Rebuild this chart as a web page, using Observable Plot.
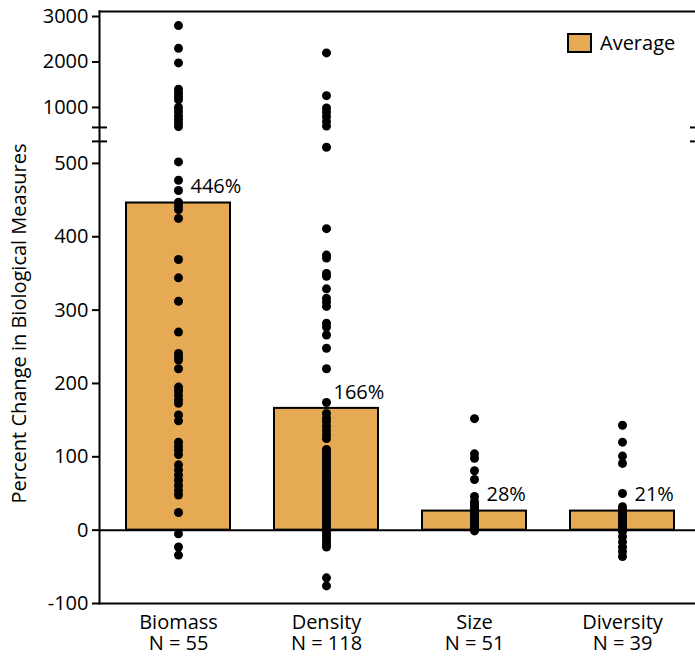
<!DOCTYPE html>
<html><head><meta charset="utf-8">
<script src="https://cdn.jsdelivr.net/npm/d3@7"></script>
<script src="https://cdn.jsdelivr.net/npm/@observablehq/plot@0.6"></script>
<style>
html,body{margin:0;padding:0;background:#fff;overflow:hidden}
#wrap{position:relative;width:695px;height:657px}
#legend{position:absolute;left:567px;top:33px;display:flex;align-items:center;font:20px "Open Sans",sans-serif;color:#000;line-height:20px}
#legend .sw{width:21px;height:16px;background:#E5AA53;border:2px solid #000;margin-right:8px}
</style></head><body><div id="wrap"><div id="legend"><div class="sw"></div><span>Average</span></div></div>
<script>
const categories = ["Biomass", "Density", "Size", "Diversity"];
const nLabels = ["N = 55", "N = 118", "N = 51", "N = 39"];
const averages = [446, 166, 26, 26];
const averageLabels = ["446%", "166%", "28%", "21%"];
const yTicks = [-100, 0, 100, 200, 300, 400, 500, 1000, 2000, 3000];
const breakLow = 530, breakHigh = 560, yMin = -100, yMax = 3110;

const biomass = [2800, 2300, 1980, 1400, 1320, 1240, 1170, 1000, 910, 820, 740, 660, 580,
  502, 477, 463, 447, 442, 437, 425, 369, 344, 312, 270, 241, 236, 232, 220,
  195, 190, 184, 178, 173, 157, 149, 120, 114, 109, 103, 89, 82, 75, 68, 61, 54, 48, 24, -5, -23, -34];
const density = [2200, 1260, 990, 900, 800, 690, 590, 522, 411, 375, 371, 350, 346, 329, 316, 311, 305,
  282, 277, 266, 248, 220, 174, 159, 153, 148, 142, 136, 130, 125,
  110, 106, 102, 99, 95, 91, 88, 84, 80, 77, 73, 70, 66, 62, 59, 55, 51, 48, 44, 40, 37, 33, 29, 26,
  22, 18, 15, 11, 7, 4, 0, -4, -8, -12, -16, -20, -23, -65, -76];
const size = [152, 104, 98, 81, 69, 46, 39, 36, 33, 30, 27, 24, 21, 18, 15, 12, 9, 6, 3, 1, -1];
const diversity = [143, 120, 101, 91, 50, 32, 28, 25, 22, 19, 16, 13, 10, 7, 4, 1, -2, -9, -16, -23, -29, -36];

// broken axis: the upper segment (>= breakHigh) is compressed, with a small gap after breakLow
const upperRatio = 0.062, gap = 19;
const brk = v => v <= breakLow ? v : breakLow + gap + (v - breakHigh) * upperRatio;

const seriesList = [biomass, density, size, diversity];
const points = [];
seriesList.forEach((vals, i) => vals.forEach(v => points.push({category: categories[i], value: v})));
const bars = categories.map((c, i) => ({category: c, avg: averages[i], label: averageLabels[i], n: nLabels[i]}));
const tickMap = new Map(yTicks.map(v => [brk(v), v]));

const chart = Plot.plot({
  width: 695, height: 657,
  marginTop: 11, marginBottom: 54, marginLeft: 99, marginRight: 0,
  style: {fontFamily: "'Open Sans', sans-serif", fontSize: "20px", color: "#000", background: "#fff"},
  x: {domain: categories, range: [99, 701], paddingInner: 0.295, paddingOuter: 0.168, label: null},
  y: {domain: [brk(yMin), brk(yMax)], label: null},
  marks: [
    Plot.barY(bars, {x: "category", y: d => brk(d.avg), fill: "#E5AA53", stroke: "#000", strokeWidth: 2}),
    Plot.ruleY([0], {stroke: "#000", strokeWidth: 2}),
    Plot.frame({anchor: "top", strokeWidth: 2}),
    Plot.frame({anchor: "left", strokeWidth: 2}),
    Plot.frame({anchor: "bottom", strokeWidth: 2}),
    Plot.axisY(yTicks.map(brk), {tickSize: 7, tickPadding: 4, fontSize: 20, strokeWidth: 2,
      tickFormat: d => String(tickMap.get(d))}),
    Plot.axisY([brk(breakLow), brk(breakHigh)], {tickSize: 15, dx: 8, strokeWidth: 2, tickFormat: () => ""}),
    Plot.axisY([brk(breakLow), brk(breakHigh)], {anchor: "right", tickSize: 10, dx: -6, strokeWidth: 2, tickFormat: () => ""}),
    Plot.axisX({tickSize: 0, tickPadding: 11, fontSize: 20, tickFormat: d => d}),
    Plot.text(bars, {x: "category", text: "n", frameAnchor: "bottom", dy: 46, fontSize: 20}),
    Plot.dot(points, {x: "category", y: d => brk(d.value), r: 4.5, fill: "#000"}),
    Plot.text(bars, {filter: d => d.category !== "Density", x: "category", y: d => brk(d.avg), text: "label", dx: 12, dy: -16, textAnchor: "start", fontSize: 20}),
    Plot.text(bars, {filter: d => d.category === "Density", x: "category", y: d => brk(d.avg), text: "label", dx: 7, dy: -16, textAnchor: "start", fontSize: 20}),
    Plot.text(["Percent Change in Biological Measures"], {frameAnchor: "left", textAnchor: "middle", rotate: -90, dx: -80, dy: 16, fontSize: 20})
  ]
});
document.getElementById("wrap").prepend(chart);
</script></body></html>
